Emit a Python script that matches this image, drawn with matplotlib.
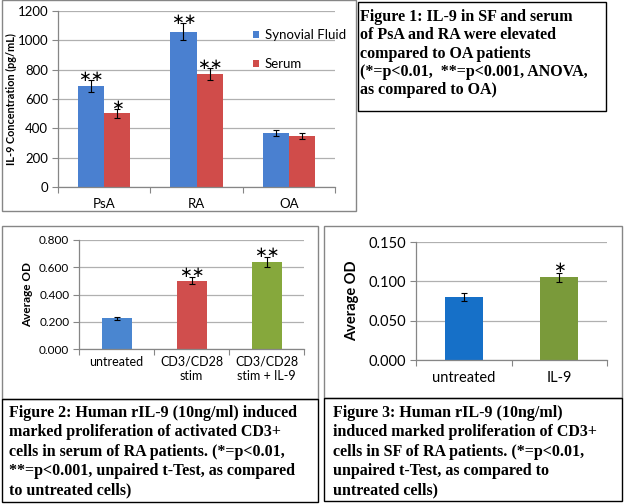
import matplotlib
matplotlib.use('Agg')
import matplotlib.pyplot as plt
from matplotlib.patches import Rectangle
import numpy as np

# Figure 1 data - IL-9 concentration (pg/mL)
groups1 = ['PsA', 'RA', 'OA']
sf_vals = [690, 1060, 370]
sf_err = [40, 57, 22]
serum_vals = [502, 770, 348]
serum_err = [30, 42, 18]
sf_stars = ['**', '**', '']
serum_stars = ['*', '**', '']

# Figure 2 data - serum of RA patients
groups2 = ['untreated', 'CD3/CD28\nstim', 'CD3/CD28\nstim + IL-9']
od2_vals = [0.225, 0.500, 0.637]
od2_err = [0.012, 0.025, 0.037]
od2_stars = ['', '**', '**']

# Figure 3 data - SF of RA patients
groups3 = ['untreated', 'IL-9']
od3_vals = [0.080, 0.105]
od3_err = [0.005, 0.006]
od3_stars = ['', '*']

caption1 = ['Figure 1: IL-9 in SF and serum',
            'of PsA and RA were elevated',
            'compared to OA patients',
            '(*=p<0.01,  **=p<0.001, ANOVA,',
            'as compared to OA)']
caption2 = ['Figure 2: Human rIL-9 (10ng/ml) induced',
            'marked proliferation of activated CD3+',
            'cells in serum of RA patients. (*=p<0.01,',
            '**=p<0.001, unpaired t-Test, as compared',
            'to untreated cells)']
caption3 = ['Figure 3: Human rIL-9 (10ng/ml)',
            'induced marked proliferation of CD3+',
            'cells in SF of RA patients. (*=p<0.01,',
            'unpaired t-Test, as compared to',
            'untreated cells)']

W, H = 624, 504
fig = plt.figure(figsize=(W / 100, H / 100), dpi=100)
plt.rcParams['font.family'] = ['Lato', 'DejaVu Sans']

AXGRAY = '#868686'
GRID = '#b0b0b0'


def px_rect(x0, y0, x1, y1):
    return [x0 / W, 1 - y1 / H, (x1 - x0) / W, (y1 - y0) / H]


def box(x0, y0, x1, y1, color):
    fig.patches.append(Rectangle((x0 / W, 1 - y1 / H), (x1 - x0) / W, (y1 - y0) / H,
                                 transform=fig.transFigure, fill=False, ec=color, lw=1.0))


def caption(lines, x, y0, step):
    for i, line in enumerate(lines):
        fig.text(x / W, 1 - (y0 + i * step) / H, line, ha='left', va='center',
                 family='Liberation Serif', weight='bold', fontsize=11.5)


def excel_axes(ax, n, ymax, ystep, fmt, fs):
    for s in ['top', 'right']:
        ax.spines[s].set_visible(False)
    for s in ['left', 'bottom']:
        ax.spines[s].set_color(AXGRAY)
        ax.spines[s].set_linewidth(0.9)
    ax.set_xlim(-0.5, n - 0.5)
    ax.set_ylim(0, ymax)
    ax.set_yticks(np.arange(0, ymax + ystep / 2, ystep))
    ax.set_yticklabels([fmt.format(v) for v in np.arange(0, ymax + ystep / 2, ystep)], fontsize=fs)
    ax.yaxis.grid(True, color=GRID, lw=0.9)
    ax.set_axisbelow(True)
    ax.tick_params(axis='y', length=4, color=AXGRAY, pad=3)
    # category boundaries get the tick marks, labels sit at the centres
    ax.set_xticks(np.arange(-0.5, n, 1.0))
    ax.set_xticklabels([''] * (n + 1))
    ax.tick_params(axis='x', which='major', length=4, color=AXGRAY)
    ax.set_xticks(np.arange(n), minor=True)
    ax.tick_params(axis='x', which='minor', length=0, pad=8, labelsize=fs)


def stars(ax, xs, tops, labels, fs, off):
    for x, t, s in zip(xs, tops, labels):
        if s:
            ax.text(x, t + off, '\u2217' * len(s), ha='center', va='bottom',
                    family='DejaVu Sans', fontsize=fs, color='black')


ekw = dict(ecolor='black', elinewidth=0.8, capsize=2.5, capthick=0.8)

# ---------- Figure 1 ----------
box(2, 0, 356, 211, AXGRAY)
ax1 = fig.add_axes(px_rect(58, 11, 335, 187))
x1 = np.arange(len(groups1))
bw = 0.283
ax1.bar(x1 - bw / 2, sf_vals, bw, yerr=sf_err, color='#4a80d0', label='Synovial Fluid', error_kw=ekw)
ax1.bar(x1 + bw / 2, serum_vals, bw, yerr=serum_err, color='#d04c4a', label='Serum', error_kw=ekw)
excel_axes(ax1, 3, 1200, 200, '{:.0f}', 9.5)
ax1.set_xticklabels(groups1, minor=True)
ax1.set_ylabel('IL-9 Concentration (pg/mL)', fontsize=7.8, weight='bold')
ax1.yaxis.set_label_coords(-0.148, 0.5)
stars(ax1, x1 - bw / 2, np.add(sf_vals, sf_err), sf_stars, 11, -25)
stars(ax1, x1 + bw / 2, np.add(serum_vals, serum_err), serum_stars, 11, -25)
ax1.legend(loc='upper left', bbox_to_anchor=(0.66, 0.965), frameon=False, fontsize=9.5,
           handlelength=0.5, handleheight=0.5, handletextpad=0.4, labelspacing=1.3)

box(358, 2, 606, 111, 'black')
caption(caption1, 360, 17, 18.3)

# ---------- Figure 2 ----------
box(2, 226, 318, 399, AXGRAY)
ax2 = fig.add_axes(px_rect(79, 240, 304, 349))
x2 = np.arange(len(groups2))
ax2.bar(x2, od2_vals, 0.4, yerr=od2_err, color=['#4a86d0', '#d04e4d', '#86a83c'], error_kw=ekw)
excel_axes(ax2, 3, 0.8, 0.2, '{:.3f}', 8.5)
ax2.set_xticklabels(groups2, minor=True)
ax2.tick_params(axis='x', which='minor', pad=5, labelsize=9)
ax2.set_ylabel('Average OD', fontsize=8.5, weight='bold')
ax2.yaxis.set_label_coords(-0.205, 0.5)
stars(ax2, x2, np.add(od2_vals, od2_err), od2_stars, 11, -0.02)

box(2, 399, 318, 502, 'black')
caption(caption2, 9, 413, 19.3)

# ---------- Figure 3 ----------
box(324, 226, 622, 398, AXGRAY)
ax3 = fig.add_axes(px_rect(416, 242, 607, 360))
x3 = np.arange(len(groups3))
ax3.bar(x3, od3_vals, 0.4, yerr=od3_err, color=['#1670c8', '#7a9a3a'], error_kw=ekw)
excel_axes(ax3, 2, 0.15, 0.05, '{:.3f}', 10.5)
ax3.set_xticklabels(groups3, minor=True)
ax3.set_ylabel('Average OD', fontsize=10.5, weight='bold')
ax3.yaxis.set_label_coords(-0.30, 0.5)
stars(ax3, x3, np.add(od3_vals, od3_err), od3_stars, 11, -0.003)

box(324, 398, 622, 501, 'black')
caption(caption3, 333, 413, 19.3)

fig.savefig('out.png', dpi=100)
